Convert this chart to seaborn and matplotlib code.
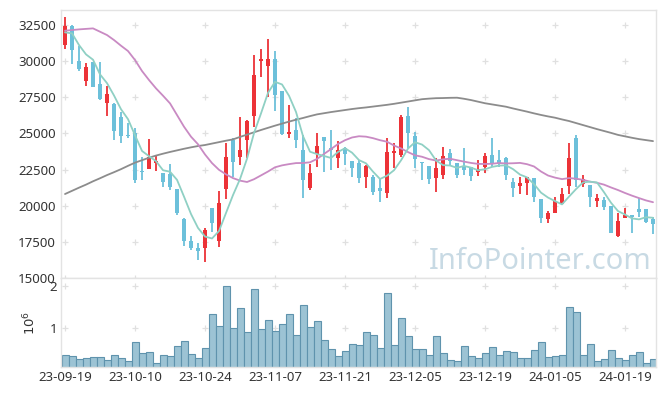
import numpy as np
import pandas as pd
import matplotlib
matplotlib.use("Agg")
import matplotlib.pyplot as plt
import seaborn as sns
from matplotlib import font_manager

# ---------------- data ----------------
opens = [31116, 32454, 30009, 28649, 29940, 28395, 27081, 27012, 26112, 24913,
         25029, 22423, 22515, 22976, 22261, 22169, 21177, 19050, 17557, 17096,
         17096, 19863, 17580, 21170, 24544, 23391, 24544, 26228, 30033, 29687,
         30148, 27934, 24982, 25236, 23852, 21200, 23553, 24775, 24014, 23322,
         24014, 23115, 22931, 22008, 22008, 21247, 20901, 23669, 23507, 26228,
         24845, 23046, 22746, 21893, 22124, 23622, 22930, 22700, 22700, 22354,
         22680, 23507, 23150, 23330, 21663, 21385, 21593, 21916, 20440, 19079,
         19517, 20150, 21330, 24706, 21478, 21431, 20348, 20394, 19978, 17907,
         19171, 19330, 19771, 19771, 19100]
highs = [33030, 32500, 31070, 29848, 29970, 29963, 28303, 27081, 26504, 25697,
         25397, 23391, 24590, 23437, 22261, 22860, 21177, 19171, 17900, 17442,
         18437, 19863, 21039, 24315, 24663, 26130, 25928, 30425, 30840, 31532,
         30701, 27934, 26965, 26089, 24890, 22884, 25005, 24775, 25236, 24498,
         24083, 23115, 23161, 22815, 22124, 21893, 24660, 24360, 26274, 26851,
         25121, 23046, 22746, 23277, 24038, 23899, 22930, 23968, 22700, 23161,
         23622, 24663, 23850, 23391, 21893, 22000, 21980, 21916, 20440, 19632,
         20625, 21250, 24317, 24890, 22124, 21431, 20809, 20625, 19978, 19471,
         19817, 19356, 20510, 19771, 19240]
lows = [30816, 29779, 29318, 28257, 28200, 27311, 26205, 24544, 24360, 24660,
        21592, 21777, 22515, 22399, 21293, 21108, 19356, 17190, 16960, 16245,
        16128, 18203, 17123, 20490, 22007, 22790, 23322, 25466, 28926, 27542,
        26573, 24913, 24659, 24014, 20555, 21085, 22699, 22353, 22470, 22583,
        22816, 22007, 21547, 21201, 20740, 20279, 20509, 22585, 23392, 23969,
        22585, 21778, 21500, 20925, 21847, 22746, 21893, 22124, 21700, 22030,
        22285, 22654, 22700, 21750, 20625, 20800, 20740, 20279, 18783, 18783,
        19517, 20100, 20786, 21316, 21316, 19932, 19932, 19701, 18087, 17815,
        19171, 18087, 19240, 18829, 18017]
closes = [32431, 30793, 29456, 29594, 28234, 27357, 27750, 25190, 24844, 24798,
          21800, 22307, 23391, 23114, 21661, 21293, 19494, 17580, 17096, 16847,
          18320, 18826, 20163, 23345, 23045, 23852, 25859, 29041, 30148, 30148,
          27657, 24959, 25120, 24544, 21777, 22284, 24129, 24475, 23853, 23852,
          23576, 22600, 21893, 22746, 20970, 21039, 23738, 23784, 26159, 25052,
          23231, 22931, 21847, 22600, 23438, 23092, 22124, 22500, 22030, 22530,
          23438, 22930, 22950, 22124, 21220, 21547, 21962, 20625, 19171, 19517,
          20325, 20830, 23300, 21778, 21824, 20579, 20556, 19932, 18133, 18944,
          19380, 19230, 19586, 18898, 18736]
volumes_m = [0.362, 0.338, 0.267, 0.291, 0.314, 0.314, 0.251, 0.362, 0.291, 0.227,
             0.669, 0.416, 0.440, 0.172, 0.362, 0.338, 0.574, 0.693, 0.385, 0.291,
             0.527, 1.331, 1.047, 1.993, 1.000, 1.473, 0.905, 1.922, 0.976, 1.189,
             0.929, 1.095, 1.331, 0.835, 1.544, 1.024, 1.165, 0.716, 0.504, 0.338,
             0.456, 0.622, 0.598, 0.905, 0.835, 0.527, 1.827, 0.598, 1.236, 0.811,
             0.504, 0.504, 0.362, 0.811, 0.409, 0.243, 0.220, 0.574, 0.338, 0.291,
             0.409, 0.551, 0.377, 0.456, 0.433, 0.291, 0.291, 0.480, 0.669, 0.314,
             0.338, 0.377, 1.496, 1.378, 0.362, 0.622, 0.220, 0.267, 0.480, 0.291,
             0.243, 0.362, 0.433, 0.172, 0.267]
# moving-average values before enough in-window history exists
ma5_head = [31993, 31923, 31116, 30470]
ma20_head = [32108, 32154, 32200, 32235, 32269, 32039, 31808, 31462, 31070, 30701,
             30079, 29318, 28695, 28118, 27611, 27081, 26274, 25466, 24775]
# long moving average (gray line)
ma_long = [20810, 21030, 21250, 21460, 21690, 21900, 22120, 22320, 22530, 22760,
           22980, 23150, 23320, 23470, 23600, 23720, 23830, 23940, 24040, 24130,
           24200, 24300, 24400, 24500, 24590, 24760, 24920, 25080, 25240, 25390,
           25540, 25680, 25820, 25950, 26070, 26200, 26320, 26400, 26480, 26550,
           26620, 26690, 26750, 26800, 26860, 26920, 26980, 27050, 27130, 27210,
           27290, 27370, 27410, 27440, 27450, 27465, 27473, 27400, 27310, 27200,
           27090, 27010, 26930, 26850, 26730, 26620, 26510, 26390, 26280, 26180,
           26090, 25970, 25860, 25720, 25580, 25440, 25300, 25170, 25040, 24900,
           24800, 24700, 24610, 24540, 24470]
tick_labels = ['23-09-19', '23-10-10', '23-10-24', '23-11-07', '23-11-21',
               '23-12-05', '23-12-19', '24-01-05', '24-01-19']
price_ticks = [15000, 17500, 20000, 22500, 25000, 27500, 30000, 32500]
vol_ticks = [1, 2]

# ---------------- build frame ----------------
df = pd.DataFrame({'open': opens, 'high': highs, 'low': lows, 'close': closes,
                   'volume': volumes_m})
df['idx'] = np.arange(len(df))
ma5 = df['close'].rolling(5).mean()
ma5.iloc[:len(ma5_head)] = ma5_head
ma20 = df['close'].rolling(20).mean()
ma20.iloc[:len(ma20_head)] = ma20_head
df['ma5'] = ma5
df['ma20'] = ma20
df['malong'] = ma_long

# ---------------- style ----------------
sns.set_theme(style='white')
plt.rcParams['font.family'] = ['Noto Sans', 'DejaVu Sans']

available = {f.name for f in font_manager.fontManager.ttflist}
if 'Liberation Sans Narrow' in available:
    wm_family, wm_size = ['Liberation Sans Narrow'], 28
else:
    wm_family, wm_size = ['Noto Sans'], 21

UP = '#ec3237'
DOWN = '#6cc0da'
TXT = '#333333'
SPINE = '#e3e3e3'
GRIDC = '#e0e0e0'

fig = plt.figure(figsize=(6.65, 3.96), dpi=100)
ax = fig.add_axes([0.0922, 0.298, 0.8943, 0.6767])
axv = fig.add_axes([0.0922, 0.0725, 0.8943, 0.2255], sharex=ax)

n = len(df)
xticks = list(range(0, n, 10))

# grid "+" markers
gx, gy = np.meshgrid(xticks, price_ticks)
ax.scatter(gx.ravel(), gy.ravel(), marker='+', s=14, color=GRIDC, linewidths=0.9, zorder=1)
gx2, gy2 = np.meshgrid(xticks, vol_ticks)
axv.scatter(gx2.ravel(), gy2.ravel(), marker='+', s=14, color=GRIDC, linewidths=0.9, zorder=1)

# candles
up = df['close'] >= df['open']
colors = np.where(up, UP, DOWN)
ax.vlines(df['idx'], df['low'], df['high'], colors=colors, linewidth=1.3, zorder=2)
body = (df['close'] - df['open']).abs().clip(lower=110)
ax.bar(df['idx'], body, bottom=np.minimum(df['open'], df['close']), width=0.7,
       color=colors, linewidth=0, zorder=3)

# moving averages
sns.lineplot(data=df, x='idx', y='malong', ax=ax, color='#8c8c8c', linewidth=1.3, zorder=4)
sns.lineplot(data=df, x='idx', y='ma20', ax=ax, color='#c98ac3', linewidth=1.3, zorder=4)
sns.lineplot(data=df, x='idx', y='ma5', ax=ax, color='#8fd0c4', linewidth=1.3, zorder=5)

# watermark
ax.text(0.993, 0.035, 'InfoPointer.com', transform=ax.transAxes, ha='right', va='baseline',
        fontsize=wm_size, family=wm_family, color='#c8dae4', zorder=0)

ax.set_xlim(-0.53, n - 0.57)
ax.set_ylim(15000, 33540)
ax.set_yticks(price_ticks)
ax.set_yticklabels([str(t) for t in price_ticks])
ax.set_xlabel('')
ax.set_ylabel('')
ax.tick_params(axis='x', labelbottom=False, length=0)
ax.tick_params(axis='y', length=0, labelsize=9.5, labelcolor=TXT, pad=4)

# volume
axv.bar(df['idx'], df['volume'], width=1.0, color='#9cc3d4', edgecolor='#5f93ad',
        linewidth=0.8, zorder=2)
axv.set_ylim(0.078, 2.189)
axv.set_yticks(vol_ticks)
axv.set_yticklabels([str(t) for t in vol_ticks])
axv.set_xticks(xticks)
axv.set_xticklabels(tick_labels)
axv.set_ylabel('$10^6$', fontsize=9.5, color=TXT, labelpad=8)
axv.set_xlabel('')
axv.tick_params(axis='both', length=0, labelsize=9.5, labelcolor=TXT, pad=3)

for a in (ax, axv):
    for s in a.spines.values():
        s.set_color(SPINE)
        s.set_linewidth(1)
    a.set_facecolor('white')

fig.savefig('out.png', dpi=100, facecolor='white')
